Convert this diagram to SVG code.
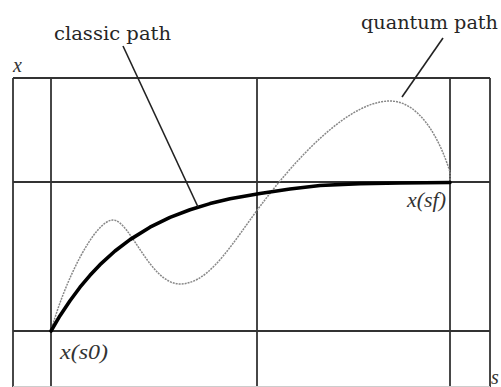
<svg xmlns="http://www.w3.org/2000/svg" width="501" height="387" viewBox="0 0 501 387">
<style>
.grid{stroke:#333;stroke-width:1.8;fill:none}
.lbl{font-family:"DejaVu Serif","Liberation Serif",serif;font-size:19px;fill:#262626}
.math{font-family:"Liberation Serif",serif;font-style:italic;font-size:20px;fill:#333}
.leader{stroke:#222;stroke-width:1.6;fill:none}
</style>
<rect width="501" height="387" fill="#fff"/>
<g id="grid">
<line class="grid" x1="13" y1="78" x2="490" y2="78"/>
<line class="grid" x1="13" y1="182" x2="490" y2="182"/>
<line class="grid" x1="13" y1="331" x2="490" y2="331"/>
<line class="grid" x1="13" y1="78" x2="13" y2="387"/>
<line class="grid" x1="51" y1="78" x2="51" y2="387"/>
<line class="grid" x1="257" y1="78" x2="257" y2="387"/>
<line class="grid" x1="450" y1="78" x2="450" y2="387"/>
<line class="grid" x1="490" y1="78" x2="490" y2="387"/>
<line x1="13" y1="386.5" x2="490" y2="386.5" stroke="#ccc" stroke-width="1"/>
</g>
<g id="quantum-path">
<path d="M51,331 C65,280 95,220 113,220 C130,220 150,284 180,284 C205,284 225,255 250,220 C275,185 340,101 390,101 C420,101 440,140 450,172 L450,181" fill="none" stroke="#888" stroke-width="1.5" stroke-dasharray="2 1"/>
</g>
<g id="classic-path">
<path d="M51,331 L60,315.7 L70,300.7 L80,287.2 L90,275.3 L100,264.7 L115,251 L130,239.6 L150,227.2 L170,217.4 L190,209.7 L210,203.6 L230,198.8 L260,193.5 L290,189 L320,185.5 L360,183.6 L400,183 L450,182.5" fill="none" stroke="#000" stroke-width="3.6" stroke-linejoin="round" stroke-linecap="round"/>
</g>
<g id="connectors">
<line class="leader" x1="123" y1="46" x2="198" y2="207"/>
<line class="leader" x1="443" y1="38" x2="402" y2="97"/>
</g>
<g id="labels">
<text class="lbl" x="54" y="40" textLength="117" lengthAdjust="spacingAndGlyphs">classic path</text>
<text class="lbl" x="361" y="29" textLength="137" lengthAdjust="spacingAndGlyphs">quantum path</text>
<text class="math" x="13" y="72">x</text>
<text class="math" x="407" y="207" textLength="39" lengthAdjust="spacingAndGlyphs">x(sf)</text>
<text class="math" x="60" y="359" textLength="48" lengthAdjust="spacingAndGlyphs">x(s0)</text>
<text class="math" x="491" y="384" font-size="15">s</text>
</g>
</svg>
